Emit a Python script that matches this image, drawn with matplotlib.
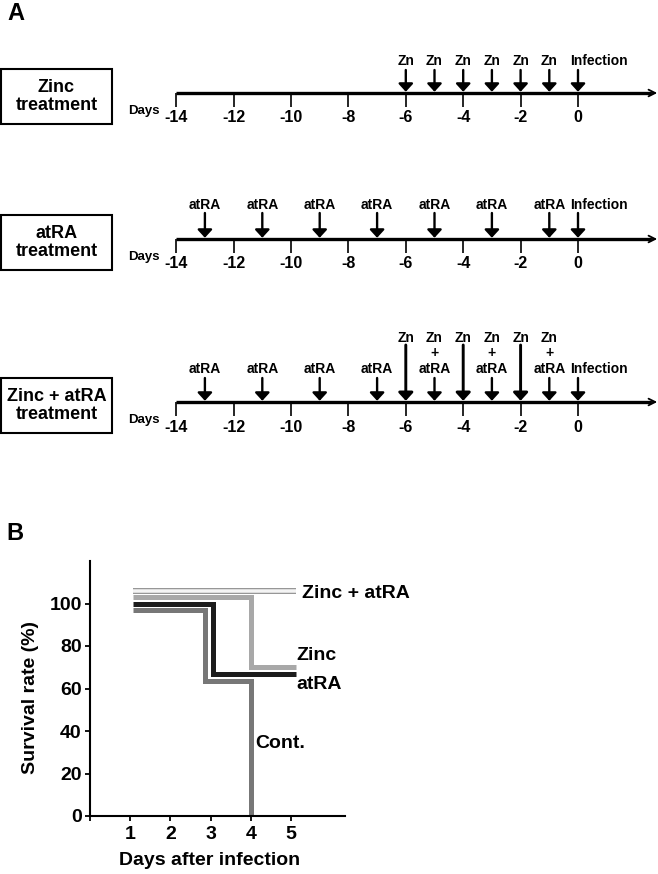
import matplotlib
matplotlib.use("Agg")
import matplotlib.pyplot as plt
from matplotlib.patches import Rectangle
from matplotlib.patches import ArrowStyle

plt.rcParams['font.family'] = ['Liberation Sans', 'DejaVu Sans']
plt.rcParams['font.weight'] = 'bold'

# ---------------- data ----------------
tick_days = [-14, -12, -10, -8, -6, -4, -2, 0]
tick_labels = ['-14', '-12', '-10', '-8', '-6', '-4', '-2', '0']
zn_days = [-6, -5, -4, -3, -2, -1]
atra_days = [-13, -11, -9, -7, -5, -3, -1]
combo_atra_only_days = [-13, -11, -9, -7]
combo_zn_only_days = [-6, -4, -2]
combo_both_days = [-5, -3, -1]
infection_day = [0]
treatments = ['Zinc\ntreatment', 'atRA\ntreatment', 'Zinc + atRA\ntreatment']

# Panel B survival curves (values as drawn, offsets included)
zinc_atra_x = [1.07, 5.12]
zinc_atra_y = [106, 106]
zinc_x = [1.07, 4.0, 5.12]
zinc_y = [103, 70, 70]
atra_x = [1.07, 3.05, 5.12]
atra_y = [100, 67, 67]
cont_x = [1.07, 2.87, 4.0, 4.0]
cont_y = [97, 63.5, 0, 0]
surv_yticks = [0, 20, 40, 60, 80, 100]
surv_xticks = [0, 1, 2, 3, 4, 5]
surv_xticklabels = ['', '1', '2', '3', '4', '5']

W, H = 658, 874
fig = plt.figure(figsize=(W / 100, H / 100), dpi=100)

# pixel-coordinate overlay
axp = fig.add_axes([0, 0, 1, 1])
axp.set_xlim(0, W)
axp.set_ylim(H, 0)
axp.axis('off')

# timeline axes: x in days, y in pixels
x0_px, px_per_day = 578.0, 28.7
axa = fig.add_axes([0, 0, 1, 1])
axa.set_xlim(-x0_px / px_per_day, (W - x0_px) / px_per_day)
axa.set_ylim(H, 0)
axa.axis('off')
axa.patch.set_alpha(0)

axp.text(7, 13, 'A', fontsize=17, fontweight='bold', ha='left', va='center')
axp.text(6, 533, 'B', fontsize=17, fontweight='bold', ha='left', va='center')

axis_ys = [93, 239, 402]

arrow_style = ArrowStyle('-|>', head_length=0.24, head_width=0.22)


def down_arrow(day, top, ay, lw=1.7):
    axa.annotate('', xy=(day, ay - 1.2), xytext=(day, top),
                 arrowprops=dict(arrowstyle=arrow_style, lw=lw, color='black',
                                 mutation_scale=20, shrinkA=0, shrinkB=0))


def infection_label(d, y):
    axa.annotate('Infection', xy=(d, y), xytext=(-6, 0), textcoords='offset points',
                 fontsize=10, fontweight='bold', ha='left', va='center')


for ay, label in zip(axis_ys, treatments):
    # box
    axp.add_patch(Rectangle((1, ay - 24), 111, 55, fill=False, lw=1.5, ec='black'))
    axp.text(56.5, ay + 3.5, label, fontsize=13, fontweight='bold', ha='center',
             va='center', linespacing=1.12)
    axp.text(128, ay + 18, 'Days', fontsize=9.5, fontweight='bold', ha='left', va='center')
    # main axis line
    axa.plot([tick_days[0], 2.55], [ay, ay], color='black', lw=2.4, solid_capstyle='butt')
    axa.annotate('', xy=(2.76, ay), xytext=(2.4, ay),
                 arrowprops=dict(arrowstyle='->', lw=1.3, color='black',
                                 mutation_scale=12, shrinkA=0, shrinkB=0))
    # ticks and labels
    axa.vlines(tick_days, ay, ay + 14, color='black', lw=1.2)
    for d, t in zip(tick_days, tick_labels):
        axa.text(d, ay + 25, t, fontsize=11.5, fontweight='bold', ha='center', va='center')

# Timeline 1 : Zinc
ay = axis_ys[0]
for d in zn_days:
    down_arrow(d, ay - 23, ay)
    axa.text(d, ay - 32, 'Zn', fontsize=10, fontweight='bold', ha='center', va='center')
for d in infection_day:
    down_arrow(d, ay - 23, ay)
    infection_label(d, ay - 32)

# Timeline 2 : atRA
ay = axis_ys[1]
for d in atra_days:
    down_arrow(d, ay - 26, ay)
    axa.text(d, ay - 34, 'atRA', fontsize=10, fontweight='bold', ha='center', va='center')
for d in infection_day:
    down_arrow(d, ay - 26, ay)
    infection_label(d, ay - 34)

# Timeline 3 : Zinc + atRA
ay = axis_ys[2]
for d in combo_atra_only_days:
    down_arrow(d, ay - 24, ay)
    axa.text(d, ay - 33, 'atRA', fontsize=10, fontweight='bold', ha='center', va='center')
for d in combo_zn_only_days:
    down_arrow(d, ay - 57, ay, lw=2.1)
    axa.text(d, ay - 64, 'Zn', fontsize=10, fontweight='bold', ha='center', va='center')
for d in combo_both_days:
    down_arrow(d, ay - 24, ay)
    axa.text(d, ay - 64, 'Zn', fontsize=10, fontweight='bold', ha='center', va='center')
    axa.text(d, ay - 49, '+', fontsize=10, fontweight='bold', ha='center', va='center')
    axa.text(d, ay - 33, 'atRA', fontsize=10, fontweight='bold', ha='center', va='center')
for d in infection_day:
    down_arrow(d, ay - 24, ay)
    infection_label(d, ay - 33)

# ---------------- Panel B ----------------
left, right, y0, ytop = 90, 345, 816, 561
axb = fig.add_axes([left / W, (H - y0) / H, (right - left) / W, (y0 - ytop) / H])
axb.set_xlim(0, 6.34)
axb.set_ylim(0, 120)
axb.patch.set_alpha(0)
for s in ['top', 'right']:
    axb.spines[s].set_visible(False)
for s in ['left', 'bottom']:
    axb.spines[s].set_linewidth(1.5)
axb.set_yticks(surv_yticks)
axb.set_xticks(surv_xticks)
axb.set_xticklabels(surv_xticklabels)
axb.tick_params(axis='both', direction='out', length=3.8, width=1.3,
                labelsize=14)
axb.tick_params(axis='y', pad=2.2)
axb.tick_params(axis='x', pad=3.5)
for lab in axb.get_xticklabels() + axb.get_yticklabels():
    lab.set_fontweight('bold')

lkw = dict(drawstyle='steps-post', solid_joinstyle='miter', solid_capstyle='butt')
axb.plot(cont_x, cont_y, color='#777777', lw=3.6, **lkw)
axb.plot(atra_x, atra_y, color='#1c1c1c', lw=3.6, **lkw)
axb.plot(zinc_x, zinc_y, color='#a8a8a8', lw=3.6, **lkw)
axb.plot(zinc_atra_x, zinc_atra_y, color='#7a7a7a', lw=4.0, **lkw)
axb.plot(zinc_atra_x, zinc_atra_y, color='#f4f4f4', lw=2.6, **lkw)

axb.text(5.27, 104.7, 'Zinc + atRA', fontsize=14, fontweight='bold', ha='left', va='center')
axb.text(5.12, 75.6, 'Zinc', fontsize=14, fontweight='bold', ha='left', va='center')
axb.text(5.12, 62, 'atRA', fontsize=14, fontweight='bold', ha='left', va='center')
axb.text(4.1, 34.3, 'Cont.', fontsize=14, fontweight='bold', ha='left', va='center')

axb.set_xlabel('Days after infection', fontsize=14, fontweight='bold')
axb.set_ylabel('Survival rate (%)', fontsize=14, fontweight='bold')
axb.xaxis.set_label_coords(0.47, -0.14)
axb.yaxis.set_label_coords(-0.20, 0.463)

fig.savefig('out.png', dpi=100)
